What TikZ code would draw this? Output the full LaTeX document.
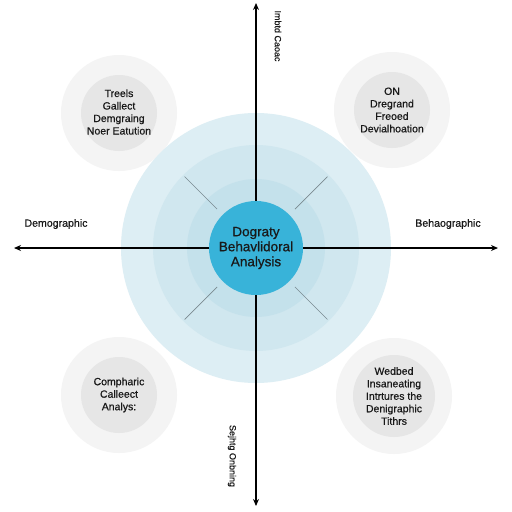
\documentclass[tikz,border=0pt]{standalone}
\usepackage{fontspec}
\setmainfont{Liberation Sans}
\newfontfamily\semib{Liberation Sans}[AutoFakeBold=0.6]
\usetikzlibrary{arrows.meta,calc}
\definecolor{ringA}{HTML}{DDEEF4}
\definecolor{ringB}{HTML}{D0E7EF}
\definecolor{ringC}{HTML}{C4E1EB}
\definecolor{core}{HTML}{38B3D9}
\definecolor{outerG}{HTML}{F4F4F4}
\definecolor{innerG}{HTML}{E6E6E6}
\definecolor{spoke}{HTML}{7A8A90}
\tikzset{
  ring/.style={circle, inner sep=0pt, draw=none},
  halo/.style={circle, fill=outerG, minimum size=116pt, inner sep=0pt},
  blob/.style={circle, fill=innerG, minimum size=76pt, inner sep=0pt},
  ctext/.style={align=center, font=\semib\bfseries\fontsize{10.5}{12.5}\selectfont, text=black!90},
  axis/.style={line width=1.4pt, -{Stealth[length=7pt,width=6pt]}},
  spk/.style={line width=0.7pt, draw=spoke},
  lab/.style={font=\semib\bfseries\fontsize{10.6}{12}\selectfont, text=black!90}
}
\begin{document}
\begin{tikzpicture}[x=1pt,y=-1pt]
\useasboundingbox[fill=white] (0,0) rectangle (512,512);
% corner halos
\node[halo] (h1) at (119,113) {};
\node[halo] (h2) at (392,110) {};
\node[halo] (h3) at (119,395) {};
\node[halo] (h4) at (394,396) {};
\node[blob] (b1) at (119,113) {};
\node[blob] (b2) at (392,110) {};
\node[blob] (b3) at (119,395) {};
\node[blob, minimum size=82pt] (b4) at (394,396) {};
% rings
\node[ring, fill=ringA, minimum size=270pt] (r1) at (256,248) {};
\node[ring, fill=ringB, minimum size=206pt] (r2) at (256,248) {};
\node[ring, fill=ringC, minimum size=138pt] (r3) at (256,248) {};
% spokes
\coordinate (c) at (256,248);
\foreach \a in {45,135,225,315}{
  \draw[spk] ($(c)+(\a:55)$) -- ($(c)+(\a:101)$);
}
% axes
\coordinate (top) at (256,3);
\coordinate (bot) at (256,506);
\coordinate (lft) at (14,248);
\coordinate (rgt) at (498,248);
\draw[axis] (c) -- (top);
\draw[axis] (c) -- (bot);
\draw[axis] (c) -- (lft);
\draw[axis] (c) -- (rgt);
% core
\node[ring, fill=core, minimum size=94pt, align=center,
  font=\semib\bfseries\fontsize{13.5}{15}\selectfont, text=black!90] (core) at (256,248)
  {Dograty\\Behavlidoral\\Analysis};
% texts
\node[ctext] (t1) at (119,112) {Treels\\Gallect\\Demgraing\\Noer Eatution};
\node[ctext] (t2) at (392,110) {ON\\Dregrand\\Freoed\\Devialhoation};
\node[ctext] (t3) at (119,395) {Compharic\\Calleect\\Analys:};
\node[ctext] (t4) at (394,396) {Wedbed\\Insaneating\\Intrtures the\\Denigraphic\\Tithrs};
\node[lab] (l1) at (56,224) {Demographic};
\node[lab] (l2) at (448,224) {Behaographic};
\node[lab, rotate=-90, font=\semib\bfseries\fontsize{9}{11}\selectfont] (l3) at (278,36) {Imbtd Caoac};
\node[lab, rotate=-90, font=\semib\bfseries\fontsize{9}{11}\selectfont] (l4) at (232,456) {Sejhtg Onbning};
\end{tikzpicture}
\end{document}
